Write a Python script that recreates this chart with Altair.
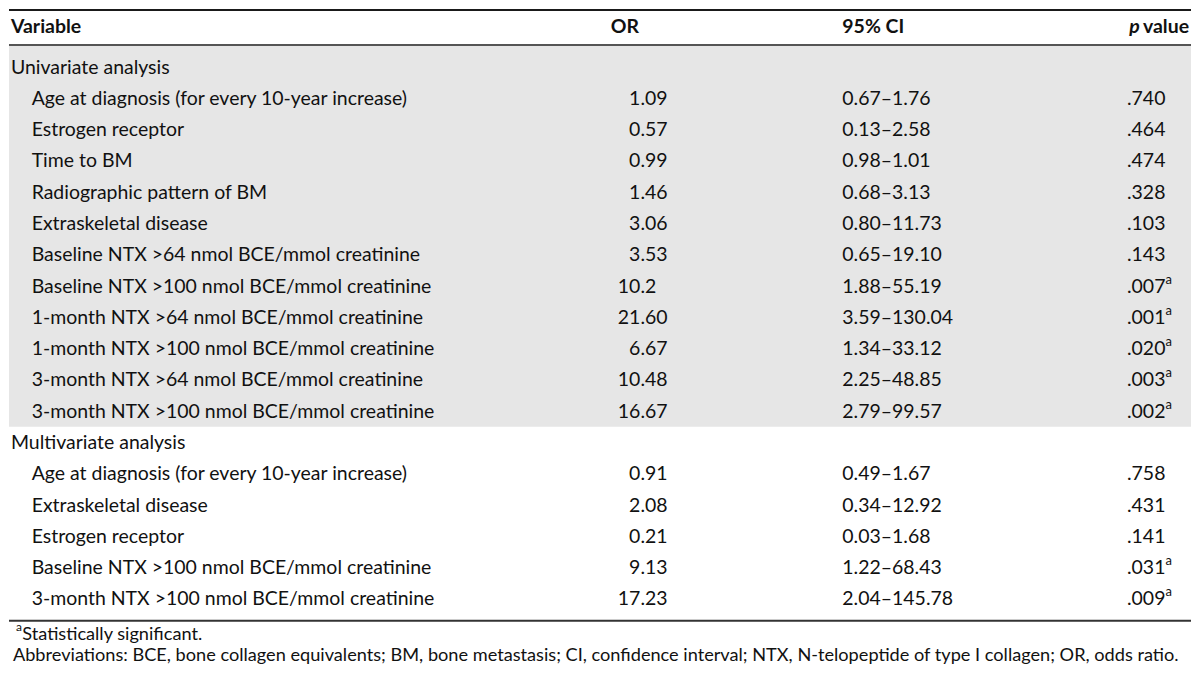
import altair as alt
import pandas as pd

# ---------------- data ----------------
header_labels = ["Variable", "OR", "95% CI", "value"]
header_italic = "p"

section_titles = ["Univariate analysis", "Multivariate analysis"]

uni_vars = [
    "Age at diagnosis (for every 10-year increase)",
    "Estrogen receptor",
    "Time to BM",
    "Radiographic pattern of BM",
    "Extraskeletal disease",
    "Baseline NTX >64 nmol BCE/mmol creatinine",
    "Baseline NTX >100 nmol BCE/mmol creatinine",
    "1-month NTX >64 nmol BCE/mmol creatinine",
    "1-month NTX >100 nmol BCE/mmol creatinine",
    "3-month NTX >64 nmol BCE/mmol creatinine",
    "3-month NTX >100 nmol BCE/mmol creatinine",
]
uni_or = ["1.09", "0.57", "0.99", "1.46", "3.06", "3.53", "10.2", "21.60", "6.67", "10.48", "16.67"]
uni_ci = ["0.67–1.76", "0.13–2.58", "0.98–1.01", "0.68–3.13", "0.80–11.73", "0.65–19.10",
          "1.88–55.19", "3.59–130.04", "1.34–33.12", "2.25–48.85", "2.79–99.57"]
uni_p = [".740", ".464", ".474", ".328", ".103", ".143", ".007", ".001", ".020", ".003", ".002"]
uni_sig = [False, False, False, False, False, False, True, True, True, True, True]

multi_vars = [
    "Age at diagnosis (for every 10-year increase)",
    "Extraskeletal disease",
    "Estrogen receptor",
    "Baseline NTX >100 nmol BCE/mmol creatinine",
    "3-month NTX >100 nmol BCE/mmol creatinine",
]
multi_or = ["0.91", "2.08", "0.21", "9.13", "17.23"]
multi_ci = ["0.49–1.67", "0.34–12.92", "0.03–1.68", "1.22–68.43", "2.04–145.78"]
multi_p = [".758", ".431", ".141", ".031", ".009"]
multi_sig = [False, False, False, True, True]

sig_mark = "a"
footnote_sig = "Statistically significant."
footnote_abbr = ("Abbreviations: BCE, bone collagen equivalents; BM, bone metastasis; "
                 "CI, confidence interval; NTX, N-telopeptide of type I collagen; OR, odds ratio.")

# ---------------- layout (reference pixel coordinates) ----------------
FONT = "Lato"
FS = 19.5
FS_NOTE = 18.2
COLOR = "#111111"
ROW0, STEP = 60.5, 32.1
X_SEC, X_VAR, X_DEC, X_CI, X_P = 2, 23, 641, 846, 1135

rows = []
r = 1
rows.append(dict(r=r, label=section_titles[0], kind="section"))
for v, o, c, p, s in zip(uni_vars, uni_or, uni_ci, uni_p, uni_sig):
    r += 1
    rows.append(dict(r=r, label=v, kind="var", orv=o, ci=c, p=p, sig=s))
r += 1
rows.append(dict(r=r, label=section_titles[1], kind="section"))
for v, o, c, p, s in zip(multi_vars, multi_or, multi_ci, multi_p, multi_sig):
    r += 1
    rows.append(dict(r=r, label=v, kind="var", orv=o, ci=c, p=p, sig=s))

df = pd.DataFrame(rows)
df["y"] = ROW0 + STEP * (df["r"] - 1)
var = df[df["kind"] == "var"].copy()
sec = df[df["kind"] == "section"].copy()

xs = alt.Scale(domain=[0, 1200], nice=False, zero=False)
ys = alt.Scale(domain=[0, 676], nice=False, zero=False, reverse=True)


def X(f="x"):
    return alt.X(f + ":Q", scale=xs, axis=None)


def Y(f="y"):
    return alt.Y(f + ":Q", scale=ys, axis=None)


def text_layer(d, align="left", weight="normal", style="normal", size=FS, dy=0):
    return alt.Chart(d).mark_text(
        align=align, baseline="middle", font=FONT, fontSize=size,
        fontWeight=weight, fontStyle=style, color=COLOR, dy=dy,
    ).encode(x=X(), y=Y(), text="t:N")


# background band for the univariate block
band = pd.DataFrame({"x": [0], "x2": [1200], "y": [38], "y2": [429]})
band_layer = alt.Chart(band).mark_rect(color="#e6e6e6").encode(
    x=X(), x2="x2:Q", y=Y(), y2="y2:Q")

# horizontal rules
rules = pd.DataFrame({"x": [0, 0, 0], "x2": [1200, 1200, 1200],
                      "y": [1.5, 37.5, 628], "c": ["a", "b", "c"]})
rule_layer = alt.Chart(rules).mark_rule(strokeWidth=2).encode(
    x=X(), x2="x2:Q", y=Y(),
    color=alt.Color("c:N", scale=alt.Scale(domain=["a", "b", "c"],
                                           range=["#1a1a1a", "#555555", "#333333"]), legend=None))

# header row
hdr = pd.DataFrame({"t": header_labels[:3], "x": [X_SEC, 611, X_CI], "y": [19, 19, 19]})
hdr_layer = text_layer(hdr, weight="bold")
hdr_val = text_layer(pd.DataFrame({"t": [header_labels[3]], "x": [1198], "y": [19]}),
                     align="right", weight="bold")
hdr_p = text_layer(pd.DataFrame({"t": [header_italic], "x": [1148], "y": [19]}),
                   align="right", weight="bold", style="italic")

# section titles and variables
sec_layer = text_layer(sec.assign(t=sec["label"], x=X_SEC))
var_layer = text_layer(var.assign(t=var["label"], x=X_VAR))

# OR column (decimal aligned)
int_part = var["orv"].str.split(".").str[0]
frac_part = "." + var["orv"].str.split(".").str[1]
or_int = text_layer(var.assign(t=int_part, x=X_DEC), align="right")
or_frac = text_layer(var.assign(t=frac_part, x=X_DEC), align="left")

# CI column
ci_layer = text_layer(var.assign(t=var["ci"], x=X_CI))

# p values + superscripts
p_layer = text_layer(var.assign(t=var["p"], x=X_P))
sig = var[var["sig"]]
sup_layer = text_layer(sig.assign(t=sig_mark, x=X_P + 39), size=13, dy=-7)

# footnotes
fn_sup = text_layer(pd.DataFrame({"t": [sig_mark], "x": [7], "y": [640]}), size=12, dy=-5)
fn1 = text_layer(pd.DataFrame({"t": [footnote_sig], "x": [13.5], "y": [643]}), size=FS_NOTE)
fn2 = text_layer(pd.DataFrame({"t": [footnote_abbr], "x": [4], "y": [664]}), size=FS_NOTE)

chart = alt.layer(
    band_layer, rule_layer, hdr_layer, hdr_val, hdr_p, sec_layer, var_layer,
    or_int, or_frac, ci_layer, p_layer, sup_layer, fn_sup, fn1, fn2,
).properties(
    width=1184, height=660, padding=0, background="white",
).configure_view(stroke=None)

chart.save("out.html", embed_options={"renderer": "svg", "actions": False})
